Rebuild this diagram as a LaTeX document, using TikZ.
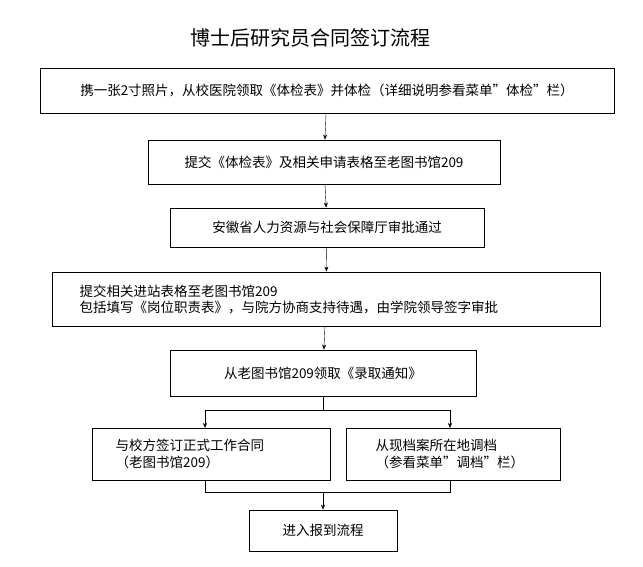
\documentclass[tikz,border=0pt]{standalone}
\usepackage{fontspec}
\setmainfont{Noto Sans CJK SC}
\usetikzlibrary{arrows.meta}
\tikzset{
  stepbox/.style={draw, thick, minimum height=#1, inner sep=0pt, font=\fontsize{13.5}{18}\selectfont},
  stepbox/.default=44pt,
  flow/.style={-{Stealth[length=5pt,width=4pt]}, thin}
}
\begin{document}
\begin{tikzpicture}[x=1pt,y=-1pt]
 \useasboundingbox (0,0) rectangle (643,567);
 \node (title) at (310,38) {\fontsize{20}{24}\selectfont 博士后研究员合同签订流程};

 \node (s1) [stepbox=45pt, minimum width=574pt] at (327,90.5) {携一张2寸照片，从校医院领取《体检表》并体检（详细说明参看菜单"体检"栏）};
 \node (s2) [stepbox=44pt, minimum width=352pt] at (324,162) {提交《体检表》及相关申请表格至老图书馆209};
 \node (s3) [stepbox=39pt, minimum width=314pt] at (327,227.5) {安徽省人力资源与社会保障厅审批通过};
 \node (s4) [stepbox=54pt, minimum width=548pt] at (326,299) {};
 \node (s4t) [anchor=west, align=left, font=\fontsize{13.5}{16}\selectfont] at (76,299) {提交相关进站表格至老图书馆209\\包括填写《岗位职责表》，与院方协商支持待遇，由学院领导签字审批};
 \node (s5) [stepbox=46pt, minimum width=306pt] at (323,373) {从老图书馆209领取《录取通知》};
 \node (s6) [stepbox=52pt, minimum width=238pt] at (211,454) {};
 \node (s6t) [anchor=west, align=left, font=\fontsize{13.5}{17}\selectfont] at (112,454) {与校方签订正式工作合同\\（老图书馆209）};
 \node (s7) [stepbox=52pt, minimum width=214pt] at (453,454) {};
 \node (s7t) [anchor=west, align=left, font=\fontsize{13.5}{17}\selectfont] at (372,454) {从现档案所在地调档\\ （参看菜单"调档"栏）};
 \node (s8) [stepbox=41pt, minimum width=148pt] at (323,530.5) {进入报到流程};

 \coordinate (split) at (323,410);
 \coordinate (join) at (323,492);

 \draw [flow] (s1) -- (s2);
 \draw [flow] (s2) -- (s3);
 \draw [flow] (s3) -- (s4);
 \draw [flow] (s4) -- (s5);
 \draw (s5) -- (split);
 \draw [flow] (split) -| (205,428);
 \draw [flow] (split) -| (450,428);
 \draw (205,480) |- (join);
 \draw (450,480) |- (join);
 \draw [flow] (join) -- (s8);
\end{tikzpicture}
\end{document}
